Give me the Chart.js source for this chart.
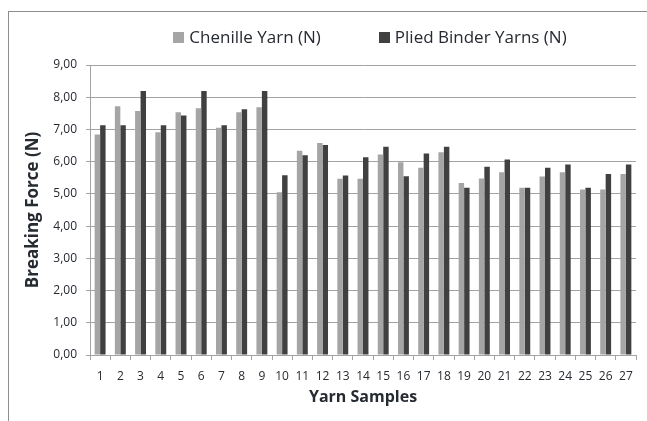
<!DOCTYPE html>
<html>
<head>
<meta charset="utf-8">
<script src="https://cdn.jsdelivr.net/npm/chart.js@4/dist/chart.umd.min.js"></script>
<style>
  html, body { margin: 0; padding: 0; background: #ffffff; overflow: hidden; }
  #wrap { position: relative; width: 647px; height: 421px; }
  #frame { position: absolute; left: 8px; top: 11px; width: 700px; height: 500px; border: 1px solid #8e8e8e; box-sizing: border-box; }
  canvas { position: absolute; left: 0; top: 0; }
</style>
</head>
<body>
<div id="wrap">
  <div id="frame"></div>
  <canvas id="chart" width="647" height="421"></canvas>
</div>
<script>
// Yarn sample numbers along the x axis
const samples = ['1','2','3','4','5','6','7','8','9','10','11','12','13','14','15','16','17','18','19','20','21','22','23','24','25','26','27'];

// Breaking force per sample, in newtons
const chenilleYarn = [6.84, 7.72, 7.57, 6.91, 7.53, 7.66, 7.05, 7.53, 7.69, 5.05, 6.34, 6.58, 5.47, 5.47, 6.22, 5.98, 5.81, 6.29, 5.34, 5.48, 5.67, 5.19, 5.54, 5.67, 5.14, 5.14, 5.62];
const pliedBinderYarns = [7.13, 7.13, 8.19, 7.13, 7.43, 8.19, 7.13, 7.63, 8.19, 5.58, 6.20, 6.52, 5.57, 6.14, 6.46, 5.55, 6.25, 6.46, 5.19, 5.84, 6.07, 5.19, 5.81, 5.91, 5.19, 5.62, 5.91];

// Value axis range and step
const yMin = 0, yMax = 9, yStep = 1;

const seriesNames = ['Chenille Yarn (N)', 'Plied Binder Yarns (N)'];
const xTitle = 'Yarn Samples';
const yTitle = 'Breaking Force (N)';

const FONT = "'Open Sans', Lato, sans-serif";
const TEXT = '#262a31';
const GRID = '#a3a3a3';

// Legend drawn above the plot: square swatch followed by the series name
const topLegend = {
  id: 'topLegend',
  afterDraw(chart) {
    const ctx = chart.ctx;
    const area = chart.chartArea;
    const box = 11, gapText = 5, gapItem = 58;
    ctx.save();
    ctx.font = '17px ' + FONT;
    ctx.textBaseline = 'middle';
    ctx.textAlign = 'left';
    const items = chart.data.datasets.map(ds => ({
      label: ds.label, color: ds.backgroundColor,
      w: box + gapText + ctx.measureText(ds.label).width
    }));
    const total = items.reduce((s, it) => s + it.w, 0) + gapItem * (items.length - 1);
    let x = (area.left + area.right) / 2 + 7 - total / 2;
    const cy = 37.5;
    items.forEach(it => {
      ctx.fillStyle = it.color;
      ctx.fillRect(Math.round(x), Math.round(cy - box / 2), box, box);
      ctx.fillStyle = TEXT;
      ctx.fillText(it.label, x + box + gapText, cy + 0.5);
      x += it.w + gapItem;
    });
    ctx.restore();
  }
};

new Chart(document.getElementById('chart'), {
  type: 'bar',
  data: {
    labels: samples,
    datasets: [
      { label: seriesNames[0], data: chenilleYarn, backgroundColor: '#a5a5a5', borderWidth: 0 },
      { label: seriesNames[1], data: pliedBinderYarns, backgroundColor: '#404040', borderWidth: 0 }
    ]
  },
  options: {
    responsive: false,
    animation: false,
    devicePixelRatio: 1,
    layout: { padding: { top: 65, left: 17, right: 11, bottom: 6 } },
    datasets: { bar: { categoryPercentage: 0.54, barPercentage: 1.0 } },
    plugins: {
      legend: { display: false },
      tooltip: { enabled: false }
    },
    scales: {
      x: {
        grid: { offset: true, drawOnChartArea: false, drawTicks: true, tickLength: 5, color: GRID },
        border: { display: true, color: GRID, width: 1 },
        ticks: { color: TEXT, font: { family: FONT, size: 12 }, padding: 9, maxRotation: 0, autoSkip: false },
        title: { display: true, text: xTitle, color: TEXT, font: { family: FONT, size: 16, weight: 'bold' }, padding: { top: 0, bottom: 8 } },
        afterFit(scale) { scale.height = 60; }
      },
      y: {
        min: yMin, max: yMax,
        grid: { color: GRID, lineWidth: 1, drawTicks: true, tickLength: 4 },
        border: { display: true, color: GRID, width: 1 },
        ticks: {
          stepSize: yStep, color: TEXT, padding: 9,
          font: { family: FONT, size: 12 },
          callback: v => v.toFixed(2).replace('.', ',')
        },
        title: { display: true, text: yTitle, color: TEXT, font: { family: FONT, size: 17, weight: 'bold' }, padding: { top: 6, bottom: 0 } },
        afterFit(scale) { scale.width = 73; }
      }
    }
  },
  plugins: [topLegend]
});
</script>
</body>
</html>
